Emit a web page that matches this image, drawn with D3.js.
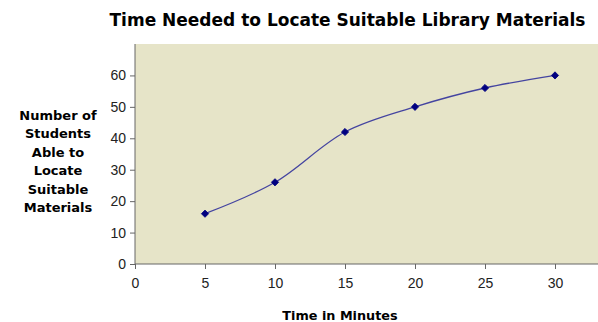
<!DOCTYPE html>
<html>
<head>
<meta charset="utf-8">
<script src="https://cdn.jsdelivr.net/npm/d3@7"></script>
<style>
  html, body { margin: 0; padding: 0; background: #fff; }
  svg { display: block; }
</style>
</head>
<body>
<script>
// Survey results: minutes spent vs. students who found suitable materials
const minutes = [5, 10, 15, 20, 25, 30];
const students = [16, 26, 42, 50, 56, 60];
const xTicks = [0, 5, 10, 15, 20, 25, 30];
const yTicks = [0, 10, 20, 30, 40, 50, 60];
const yLabelLines = ["Number of", "Students", "Able to", "Locate", "Suitable", "Materials"];

const W = 598, H = 322;
const svg = d3.select("body").append("svg").attr("width", W).attr("height", H);

const x = d3.scaleLinear().domain([0, 35]).range([135, 625]);
const y = d3.scaleLinear().domain([0, 70]).range([264, 44]);

// plot area fill
svg.append("rect")
  .attr("x", x(0)).attr("y", y(70))
  .attr("width", W - x(0)).attr("height", y(0) - y(70))
  .attr("fill", "#e6e4c8");

const tickFont = "'Liberation Sans', Arial, sans-serif";

// y axis
const yAxis = svg.append("g")
  .attr("transform", `translate(${x(0)},0)`)
  .call(d3.axisLeft(y).tickValues(yTicks).tickSize(5).tickPadding(4));
yAxis.select(".domain").attr("stroke", "#666").attr("d", `M0,${y(0)}V${y(70)}`);
yAxis.selectAll(".tick line").attr("stroke", "#666");
yAxis.selectAll(".tick text").attr("font-family", tickFont).attr("font-size", 14).attr("fill", "#222");

// x axis
const xAxis = svg.append("g")
  .attr("transform", `translate(0,${y(0)})`)
  .call(d3.axisBottom(x).tickValues(xTicks).tickSize(5).tickPadding(9));
xAxis.select(".domain").attr("stroke", "#666").attr("d", `M${x(0)},0H${W}`);
xAxis.selectAll(".tick line").attr("stroke", "#666");
xAxis.selectAll(".tick text").attr("font-family", tickFont).attr("font-size", 14).attr("fill", "#222");

const pts = minutes.map((m, i) => [m, students[i]]);

// smoothed series line
const line = d3.line().x(d => x(d[0])).y(d => y(d[1])).curve(d3.curveCatmullRom.alpha(0.5));
svg.append("path")
  .datum(pts)
  .attr("d", line)
  .attr("fill", "none")
  .attr("stroke", "#4444a0")
  .attr("stroke-width", 1.3);

// diamond markers (square turned 45°)
svg.selectAll("path.marker")
  .data(pts)
  .enter().append("path")
  .attr("class", "marker")
  .attr("d", d3.symbol().type(d3.symbolSquare).size(26))
  .attr("transform", d => `translate(${x(d[0])},${y(d[1])}) rotate(45)`)
  .attr("fill", "#000080")
  .attr("stroke", "#000080")
  .attr("stroke-width", 0.8);

const boldFont = "'DejaVu Sans', Verdana, sans-serif";

// title
svg.append("text")
  .attr("x", 347.5).attr("y", 26)
  .attr("text-anchor", "middle")
  .attr("font-family", boldFont).attr("font-weight", "bold").attr("font-size", 17)
  .attr("fill", "#000")
  .text("Time Needed to Locate Suitable Library Materials");

// x axis title
svg.append("text")
  .attr("x", 340).attr("y", 320)
  .attr("text-anchor", "middle")
  .attr("font-family", boldFont).attr("font-weight", "bold").attr("font-size", 12.8)
  .attr("fill", "#000")
  .text("Time in Minutes");

// y axis title (stacked lines)
svg.append("text")
  .attr("text-anchor", "middle")
  .attr("font-family", boldFont).attr("font-weight", "bold").attr("font-size", 13)
  .attr("fill", "#000")
  .selectAll("tspan")
  .data(yLabelLines)
  .enter().append("tspan")
  .attr("x", 58)
  .attr("y", (d, i) => 120 + i * 18.4)
  .text(d => d);
</script>
</body>
</html>
